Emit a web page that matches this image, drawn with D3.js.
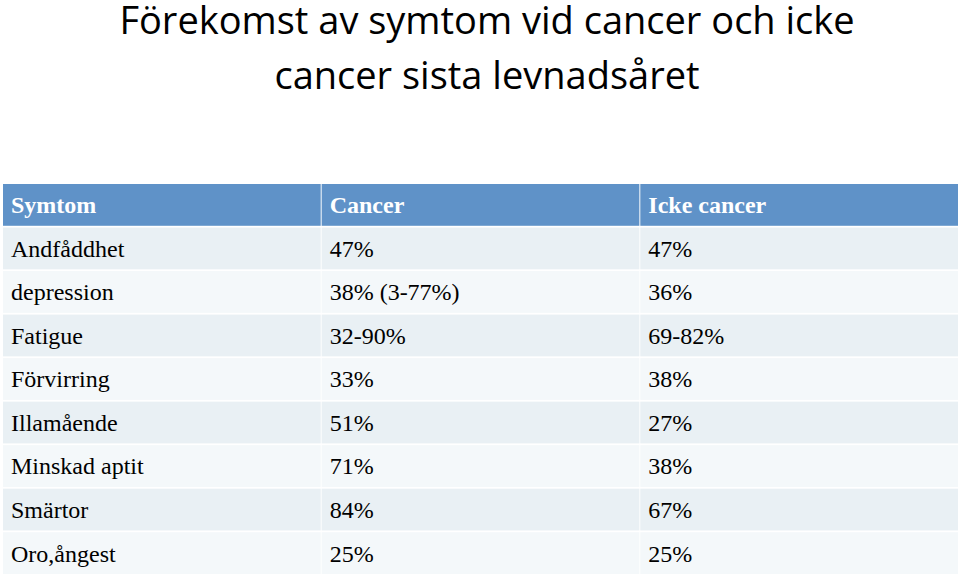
<!DOCTYPE html>
<html><head><meta charset="utf-8">
<script src="https://cdn.jsdelivr.net/npm/d3@7"></script>
<style>body{margin:0;background:#fff}</style>
</head><body>
<script>
// Table content
const headers = ['Symtom', 'Cancer', 'Icke cancer'];
const symptoms = ['Andfåddhet', 'depression', 'Fatigue', 'Förvirring', 'Illamående', 'Minskad aptit', 'Smärtor', 'Oro,ångest'];
const cancer = ['47%', '38% (3-77%)', '32-90%', '33%', '51%', '71%', '84%', '25%'];
const ickeCancer = ['47%', '36%', '69-82%', '38%', '27%', '38%', '67%', '25%'];
const titleLines = ['Förekomst av symtom vid cancer och icke', 'cancer sista levnadsåret'];

const width = 960, height = 574;
const svg = d3.select('body').append('svg').attr('width', width).attr('height', height);

svg.selectAll('.title').data(titleLines).enter().append('text')
  .attr('x', 487).attr('y', (d, i) => 34 + i * 55)
  .attr('text-anchor', 'middle')
  .attr('font-family', 'Open Sans, Liberation Sans, sans-serif')
  .attr('font-size', '38px').attr('fill', '#000')
  .text(d => d);

const x = d3.scaleBand().domain(d3.range(3)).range([3, 958]).paddingInner(0.003);
const y = d3.scaleBand().domain(d3.range(9)).range([184, 574]).paddingInner(0.04);

const rows = [headers].concat(symptoms.map((s, i) => [s, cancer[i], ickeCancer[i]]));

const g = svg.append('g');
rows.forEach((row, r) => {
  row.forEach((cell, c) => {
    g.append('rect')
      .attr('x', x(c)).attr('y', y(r))
      .attr('width', x.bandwidth()).attr('height', y.bandwidth())
      .attr('fill', r === 0 ? '#5f92c8' : (r % 2 ? '#e9f0f4' : '#f4f8fa'));
    g.append('text')
      .attr('x', x(c) + 8).attr('y', y(r) + y.bandwidth() / 2)
      .attr('dy', '0.35em')
      .attr('font-family', 'Liberation Serif, serif')
      .attr('font-size', '24px')
      .attr('font-weight', r === 0 ? 'bold' : 'normal')
      .attr('fill', r === 0 ? '#fff' : '#000')
      .text(cell);
  });
});
</script>
</body></html>
